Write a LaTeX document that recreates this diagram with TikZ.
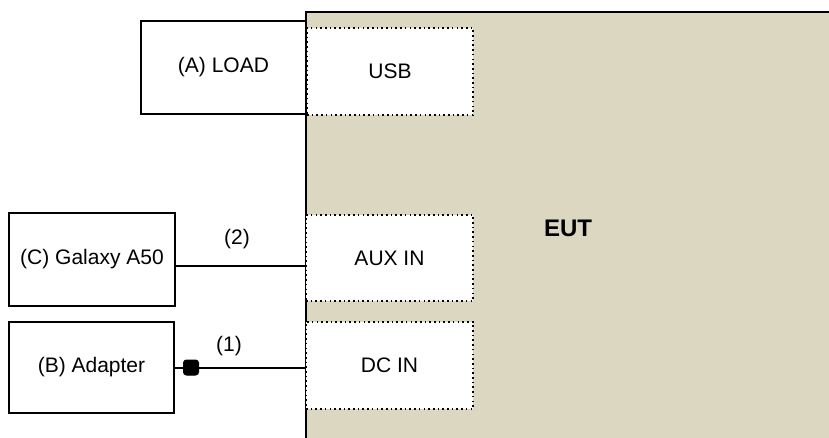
\documentclass[tikz,border=0pt]{standalone}
\usepackage{fontspec}
\setmainfont{Liberation Sans}
\definecolor{eutfill}{HTML}{DCD7C1}
\tikzset{
  box/.style={draw=black, line width=2pt, fill=white, inner sep=0pt, font=\fontsize{21}{25}\selectfont},
  port/.style={draw=black, line width=1.6pt, dash pattern=on 1.6pt off 3.1pt, fill=white, inner sep=0pt, font=\fontsize{21}{25}\selectfont},
  wire/.style={draw=black, line width=1.3pt},
  lbl/.style={inner sep=0pt, font=\fontsize{21}{25}\selectfont},
  plugbox/.style={draw=black, fill=black, line width=1pt, rounded corners=3pt, minimum width=15pt, minimum height=15pt, inner sep=0pt},
}
\begin{document}
\begin{tikzpicture}[x=1pt, y=-1pt]
\useasboundingbox (0,0) rectangle (829,437);
\clip (0,0) rectangle (829,437);
% EUT
\draw[fill=eutfill, line width=2.6pt] (306,12) rectangle (840,450);
\node[lbl, font=\fontsize{24}{28}\selectfont\bfseries] (eut) at (568,228) {EUT};
% external devices
\node[box, minimum width=165pt, minimum height=93pt] (load) at (223.5,67.5) {(A) LOAD};
\node[box, minimum width=166pt, minimum height=93pt] (galaxy) at (92,259.5) {(C) Galaxy A50};
\node[box, minimum width=165pt, minimum height=91pt] (adapter) at (91.5,367.5) {(B) Adapter};
% redraw EUT left border over load box edge
\draw[line width=2.6pt] (306,12) -- (306,450);
% ports
\node[port, minimum width=166pt, minimum height=87pt] (usb) at (390,71.5) {USB};
\node[port, minimum width=167pt, minimum height=86pt] (aux) at (389.5,258) {AUX IN};
\node[port, minimum width=167pt, minimum height=87pt] (dc) at (389.5,365.5) {DC IN};
% connectors
\draw[wire] (galaxy.east |- 0,266) coordinate (g2) -- (aux.west |- g2);
\draw[wire] (adapter.east |- 0,368) coordinate (a1) -- (dc.west |- a1);
\node[plugbox] (plug) at (191,367.5) {};
\node[lbl] (l2) at (237,239) {(2)};
\node[lbl] (l1) at (229,346) {(1)};
\end{tikzpicture}
\end{document}
